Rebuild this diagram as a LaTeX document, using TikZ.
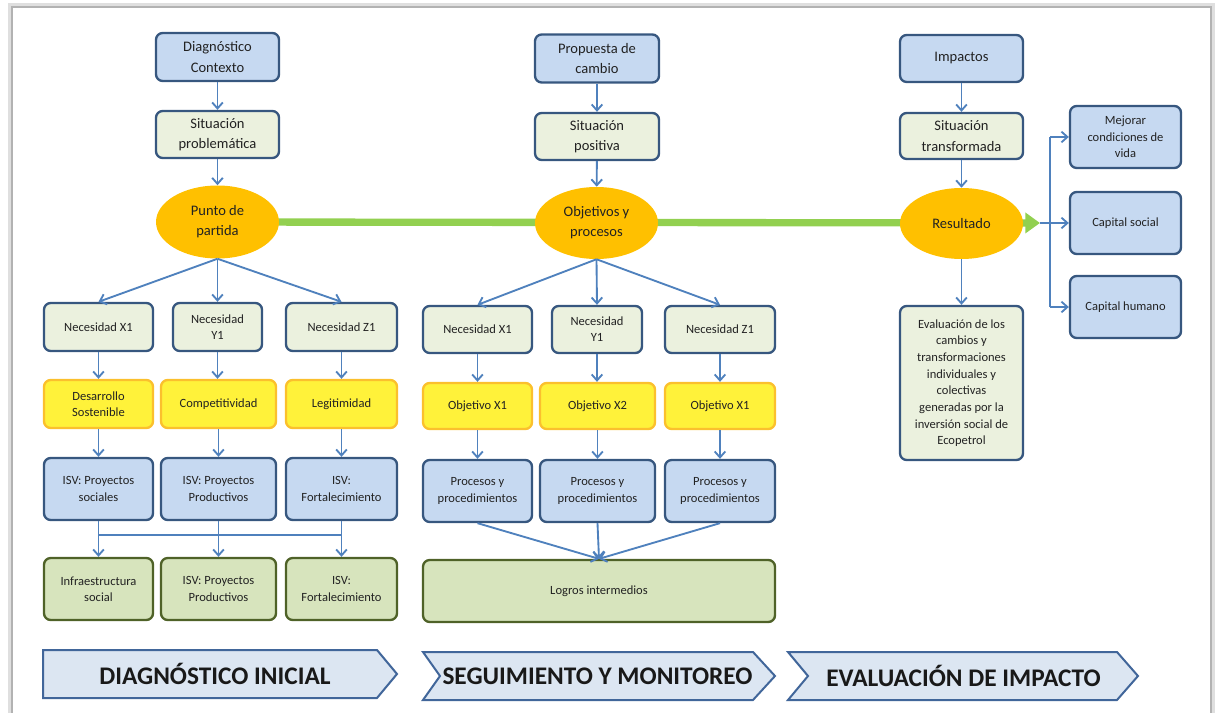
\documentclass[tikz,border=0pt]{standalone}
\usepackage{fontspec}
\setmainfont{Carlito}
\usetikzlibrary{shapes.geometric,arrows.meta,backgrounds}
\definecolor{bluefill}{HTML}{C6D9F1}
\definecolor{bluedraw}{HTML}{37577F}
\definecolor{palefill}{HTML}{EBF1DE}
\definecolor{yelfill}{HTML}{FFF23A}
\definecolor{yeldraw}{HTML}{FBC02D}
\definecolor{grnfill}{HTML}{D7E4BD}
\definecolor{grndraw}{HTML}{4F6228}
\definecolor{goldfill}{HTML}{FFC000}
\definecolor{lime}{HTML}{92D050}
\definecolor{arrc}{HTML}{4F81BD}
\definecolor{txtc}{HTML}{222222}
\definecolor{chfill}{HTML}{DCE6F2}
\definecolor{chdraw}{HTML}{41669A}
\begin{document}
\begin{tikzpicture}[x=0.75pt,y=-0.75pt,
  sz/.style 2 args={minimum width=#1*0.75pt, minimum height=#2*0.75pt},
  box/.style={draw, line width=1.75pt, rounded corners=5pt, inner sep=0pt, align=center, text=txtc,
    font=\fontsize{9.4}{12.2}\selectfont},
  topf/.style={font=\fontsize{10.9}{15.2}\selectfont},
  bluebox/.style={box, fill=bluefill, draw=bluedraw},
  palebox/.style={box, fill=palefill, draw=bluedraw},
  yelbox/.style={box, fill=yelfill, draw=yeldraw},
  grnbox/.style={box, fill=grnfill, draw=grndraw},
  ell/.style={ellipse, fill=goldfill, draw=none, inner sep=0pt, align=center, text=txtc,
    font=\fontsize{10.9}{15}\selectfont},
  link/.style={draw=arrc, line width=1.4pt},
  arr/.style={link, -{Straight Barb[length=4.5pt,width=8pt]}},
  chev/.style={fill=chfill, draw=chdraw, line width=1.5pt, line join=miter},
  chtext/.style={text=black!90, font=\fontsize{19}{21}\selectfont\bfseries, inner sep=0pt}
]
\useasboundingbox (0,0) rectangle (1218,713);
% page frame
\draw[gray!25, line width=3pt] (10,720) -- (10,5) -- (1213,5) -- (1213,720);
\draw[gray!60, line width=1pt] (12,720) -- (12,7) -- (1211,7) -- (1211,720);

% ---------- left column ----------
\node[bluebox,topf,sz={123}{48}] (d1) at (217.5,57) {Diagnóstico\\Contexto};
\node[palebox,topf,sz={123}{47}] (d2) at (217.5,134.5) {Situación\\problemática};
\node[ell,sz={123}{73}] (e1) at (217.5,222) {Punto de\\partida};
\node[palebox,sz={109}{48}] (n1) at (98.5,327) {Necesidad X1};
\node[palebox,sz={89}{48}] (n2) at (217.5,327) {Necesidad\\Y1};
\node[palebox,sz={111}{48}] (n3) at (341.5,327) {Necesidad Z1};
\node[yelbox,sz={109}{48}] (y1) at (98.5,404) {Desarrollo\\Sostenible};
\node[yelbox,sz={115}{48}] (y2) at (218.5,404) {Competitividad};
\node[yelbox,sz={111}{48}] (y3) at (341.5,404) {Legitimidad};
\node[bluebox,sz={109}{62}] (b1) at (98.5,489) {ISV: Proyectos\\sociales};
\node[bluebox,sz={115}{62}] (b2) at (218.5,489) {ISV: Proyectos\\Productivos};
\node[bluebox,sz={111}{62}] (b3) at (341.5,489) {ISV:\\Fortalecimiento};
\node[grnbox,sz={109}{62}] (g1) at (98.5,589) {Infraestructura\\social};
\node[grnbox,sz={115}{62}] (g2) at (218.5,589) {ISV: Proyectos\\Productivos};
\node[grnbox,sz={111}{62}] (g3) at (341.5,589) {ISV:\\Fortalecimiento};
\coordinate (jn) at (218,535);

% ---------- middle column ----------
\node[bluebox,topf,sz={124}{48}] (p1) at (597,58.5) {Propuesta de\\cambio};
\node[palebox,topf,sz={124}{47}] (p2) at (597,136.5) {Situación\\positiva};
\node[ell,sz={123}{72}] (e2) at (596.5,223) {Objetivos y\\procesos};
\node[palebox,sz={109}{47}] (m1) at (477.5,329.5) {Necesidad X1};
\node[palebox,sz={90}{47}] (m2) at (597,329.5) {Necesidad\\Y1};
\node[palebox,sz={110}{47}] (m3) at (720,329.5) {Necesidad Z1};
\node[yelbox,sz={109}{46}] (o1) at (477.5,406) {Objetivo X1};
\node[yelbox,sz={115}{46}] (o2) at (597.5,406) {Objetivo X2};
\node[yelbox,sz={110}{46}] (o3) at (720,406) {Objetivo X1};
\node[bluebox,sz={109}{62}] (q1) at (477.5,491) {Procesos y\\procedimientos};
\node[bluebox,sz={115}{62}] (q2) at (597.5,491) {Procesos y\\procedimientos};
\node[bluebox,sz={110}{62}] (q3) at (720,491) {Procesos y\\procedimientos};
\node[grnbox,sz={352}{62}] (lg) at (599,591) {Logros intermedios};

% ---------- right column ----------
\node[bluebox,topf,sz={123}{47}] (r1) at (961.5,58.5) {Impactos};
\node[palebox,topf,sz={123}{46}] (r2) at (961.5,136) {Situación\\transformada};
\node[ell,sz={123}{71}] (e3) at (961.5,223.5) {Resultado};
\node[palebox,sz={123}{154},font=\fontsize{9.4}{12.5}\selectfont] (ev) at (961.5,383)
  {Evaluación de los\\cambios y\\transformaciones\\individuales y\\colectivas\\generadas por la\\inversión social de\\Ecopetrol};
\node[bluebox,sz={111}{62}] (c1) at (1125.5,137) {Mejorar\\condiciones de\\vida};
\node[bluebox,sz={111}{62}] (c2) at (1125.5,223) {Capital social};
\node[bluebox,sz={111}{62}] (c3) at (1125.5,307) {Capital humano};
\coordinate (gt) at (1040,223);
\coordinate (sp) at (1050,223);

% green axis behind the ellipses
\begin{scope}[on background layer]
\draw[lime, line width=5.5pt, -{Triangle[length=11pt,width=15pt]}] (e1.center) -- (gt);
\end{scope}

% ---------- connectors ----------
\draw[arr] (d1) -- (d2);
\draw[arr] (d2) -- (e1);
\draw[arr] (e1.south) -- (n1.north);
\draw[arr] (e1.south) -- (n2.north);
\draw[arr] (e1.south) -- (n3.north);
\draw[arr] (n1) -- (y1);
\draw[arr] (n2) -- (y2.north -| n2.south);
\draw[arr] (n3) -- (y3);
\draw[arr] (y1) -- (b1);
\draw[arr] (y2) -- (b2);
\draw[arr] (y3) -- (b3);
\draw[link] (b1.south) -- (b1.south |- jn);
\draw[link] (b2.south) -- (b2.south |- jn);
\draw[link] (b3.south) -- (b3.south |- jn);
\draw[link] (b1.south |- jn) -- (b3.south |- jn);
\draw[arr] (g1.north |- jn) -- (g1.north);
\draw[arr] (g2.north |- jn) -- (g2.north);
\draw[arr] (g3.north |- jn) -- (g3.north);

\draw[arr] (p1) -- (p2);
\draw[arr] (p2) -- (e2);
\draw[arr] (e2.south) -- (m1.north);
\draw[arr] (e2.south) -- (m2.north);
\draw[arr] (e2.south) -- (m3.north);
\draw[arr] (m1) -- (o1);
\draw[arr] (m2) -- (o2.north -| m2.south);
\draw[arr] (m3) -- (o3);
\draw[arr] (o1) -- (q1);
\draw[arr] (o2) -- (q2);
\draw[arr] (o3) -- (q3);
\draw[arr] (q1.south) -- (lg.north);
\draw[arr] (q2.south) -- (lg.north);
\draw[arr] (q3.south) -- (lg.north);

\draw[arr] (r1) -- (r2);
\draw[arr] (r2) -- (e3);
\draw[arr] (e3) -- (ev);
\draw[arr] (gt) -- (c2.west);
\draw[link] (sp |- c1.west) -- (sp |- c3.west);
\draw[arr] (sp |- c1.west) -- (c1.west);
\draw[arr] (sp |- c3.west) -- (c3.west);

% ---------- phase chevrons ----------
\draw[chev] (43,650) -- (377,650) -- (397,674) -- (377,698) -- (43,698) -- cycle;
\draw[chev] (423,652) -- (753,652) -- (775,676) -- (753,700) -- (423,700) -- (440,676) -- cycle;
\draw[chev] (788,652) -- (1117,652) -- (1138,676) -- (1117,700) -- (788,700) -- (808,676) -- cycle;
\node[chtext] (t1) at (215,674) {DIAGNÓSTICO INICIAL};
\node[chtext] (t2) at (597.5,676) {SEGUIMIENTO Y MONITOREO};
\node[chtext] (t3) at (963.5,676) {EVALUACIÓN DE IMPACTO};
\end{tikzpicture}
\end{document}
